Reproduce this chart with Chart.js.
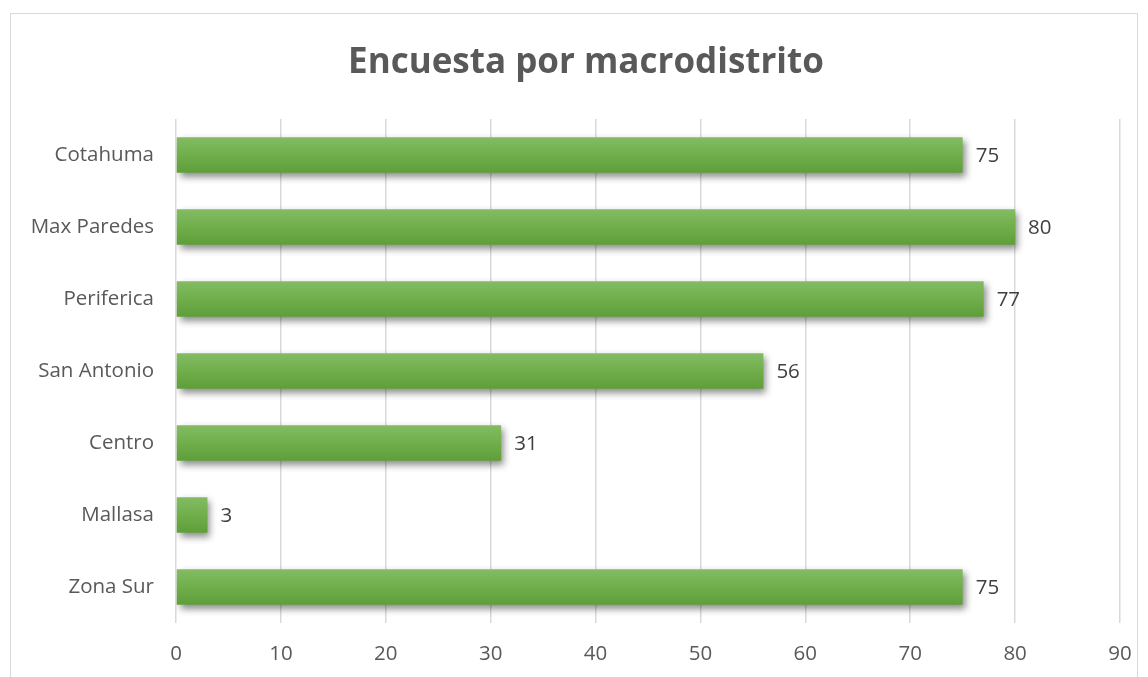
<!DOCTYPE html>
<html>
<head>
<meta charset="utf-8">
<script src="https://cdn.jsdelivr.net/npm/chart.js@4.4.1/dist/chart.umd.min.js"></script>
<style>
    html, body { margin: 0; padding: 0; background: #fff; overflow: hidden; }
    #frame { position: absolute; left: 10px; top: 13px; width: 1126px; height: 700px; border: 1px solid #d9d9d9; }
    #wrap { position: absolute; left: 0; top: 0; width: 1148px; height: 677px; }
</style>
</head>
<body>
<div id="frame"></div>
<div id="wrap"><canvas id="surveyChart"></canvas></div>
<script>
const districts = ['Cotahuma', 'Max Paredes', 'Periferica', 'San Antonio', 'Centro', 'Mallasa', 'Zona Sur'];
const surveyCounts = [75, 80, 77, 56, 31, 3, 75];
const xTicks = [0, 10, 20, 30, 40, 50, 60, 70, 80, 90];

const BAR_PCT = 0.49;
const LABEL_FONT = { family: '"Open Sans"', size: 20.5 };

// green gradient per bar, top lighter than bottom
function barFill(context) {
    const chart = context.chart;
    const yScale = chart.scales.y;
    if (!yScale || !chart.chartArea) return '#70ad47';
    const center = yScale.getPixelForValue(context.dataIndex);
    const half = (yScale.height / districts.length) * BAR_PCT / 2;
    const g = chart.ctx.createLinearGradient(0, center - half, 0, center + half);
    g.addColorStop(0, '#83bc63');
    g.addColorStop(0.5, '#70ae4b');
    g.addColorStop(1, '#5e9f39');
    return g;
}

const barShadow = {
    id: 'barShadow',
    beforeDatasetsDraw(chart) {
        const ctx = chart.ctx;
        ctx.save();
        ctx.shadowColor = 'rgba(0,0,0,0.45)';
        ctx.shadowBlur = 7;
        ctx.shadowOffsetX = 3;
        ctx.shadowOffsetY = 4;
    },
    afterDatasetsDraw(chart) {
        chart.ctx.restore();
    }
};

const valueLabels = {
    id: 'valueLabels',
    afterDatasetsDraw(chart) {
        const ctx = chart.ctx;
        const meta = chart.getDatasetMeta(0);
        ctx.save();
        ctx.font = LABEL_FONT.size + 'px ' + LABEL_FONT.family;
        ctx.fillStyle = '#404040';
        ctx.textAlign = 'left';
        ctx.textBaseline = 'middle';
        meta.data.forEach((bar, i) => {
            ctx.fillText(String(surveyCounts[i]), bar.x + 13, bar.y + 1);
        });
        ctx.restore();
    }
};

// the title sits a little right of the canvas centre in the original
const titleShift = {
    id: 'titleShift',
    afterLayout(chart) {
        if (chart.titleBlock) {
            chart.titleBlock.left += 26;
            chart.titleBlock.right += 26;
        }
    }
};

const ctx = document.getElementById('surveyChart').getContext('2d');
new Chart(ctx, {
    type: 'bar',
    data: {
        labels: districts,
        datasets: [{
            data: surveyCounts,
            backgroundColor: barFill,
            borderWidth: 0,
            barPercentage: BAR_PCT,
            categoryPercentage: 1
        }]
    },
    options: {
        indexAxis: 'y',
        responsive: true,
        maintainAspectRatio: false,
        animation: false,
        layout: { padding: { left: 0, right: 28, top: 0, bottom: 0 } },
        plugins: {
            legend: { display: false },
            tooltip: { enabled: false },
            title: {
                display: true,
                text: 'Encuesta por macrodistrito',
                color: '#595959',
                font: { family: '"Open Sans"', size: 35, weight: 'bold' },
                padding: { top: 42, bottom: 35 }
            }
        },
        scales: {
            x: {
                min: 0,
                max: 90,
                afterBuildTicks: (scale) => { scale.ticks = xTicks.map(v => ({ value: v })); },
                afterFit: (scale) => {
                    scale.height = 54;
                    scale.paddingLeft = 0;
                    scale.paddingRight = 0;
                },
                grid: { color: '#d9d9d9', lineWidth: 1.5, drawTicks: false },
                border: { display: false },
                ticks: {
                    color: '#595959',
                    padding: 19,
                    font: LABEL_FONT
                }
            },
            y: {
                afterFit: (scale) => { scale.width = 176; },
                grid: { display: false, drawTicks: false },
                border: { display: false },
                ticks: {
                    color: '#595959',
                    padding: 22,
                    font: LABEL_FONT
                }
            }
        }
    },
    plugins: [barShadow, valueLabels, titleShift]
});
</script>
</body>
</html>
